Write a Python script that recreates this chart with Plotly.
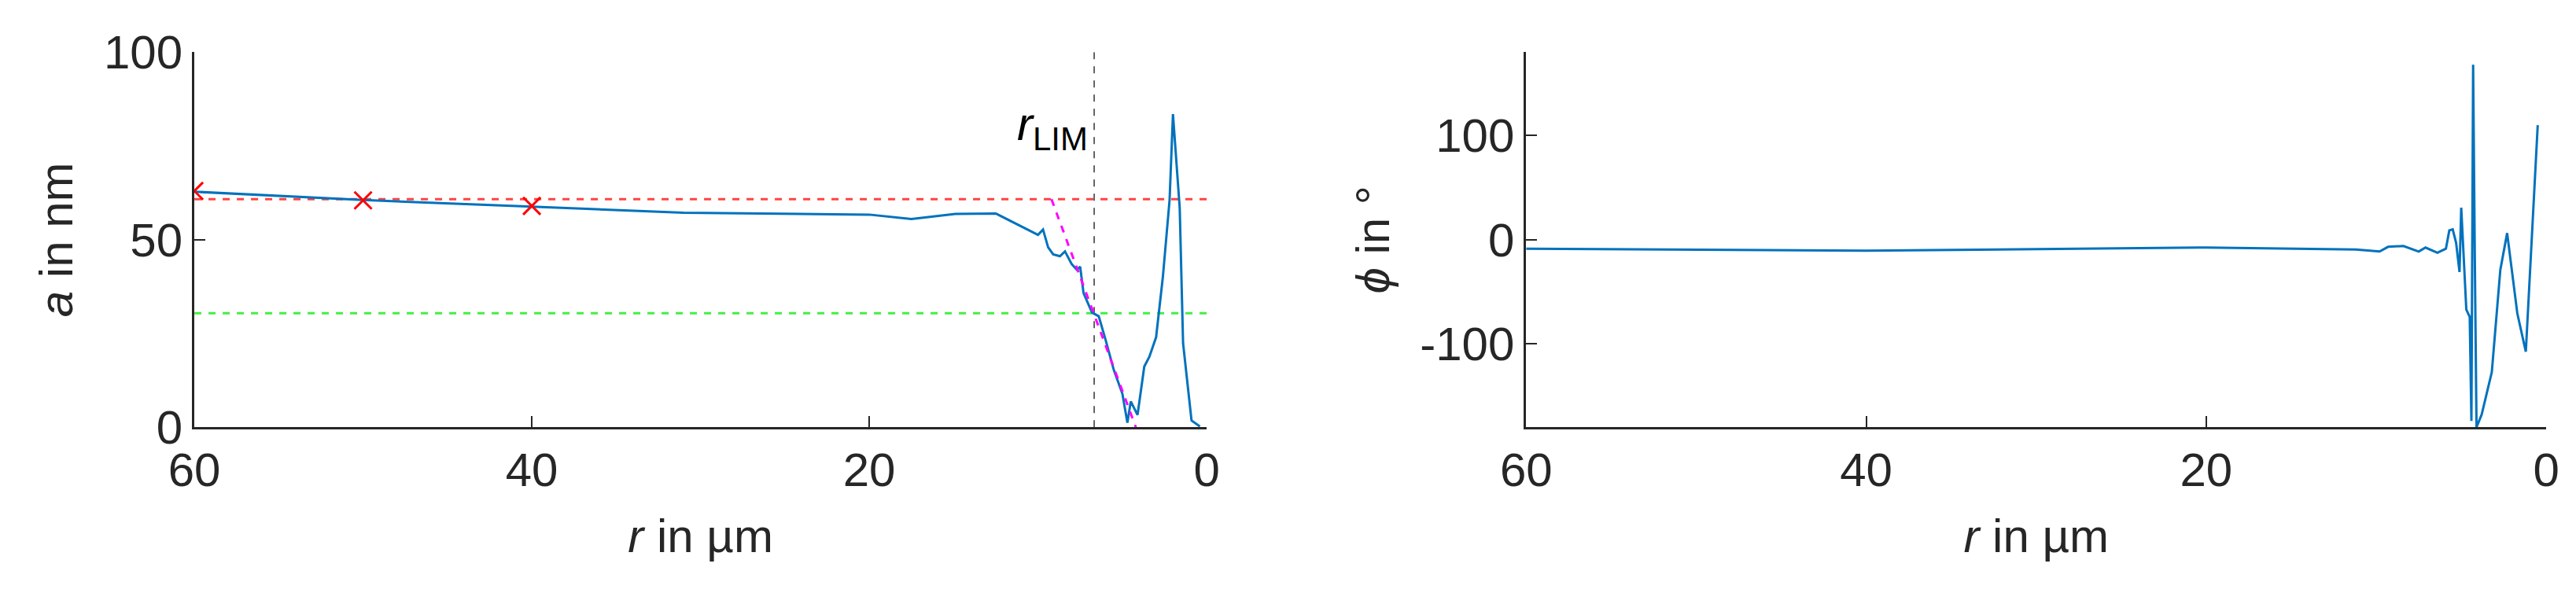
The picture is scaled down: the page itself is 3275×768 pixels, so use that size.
import plotly.graph_objects as go
from plotly.subplots import make_subplots

# amplitude profile, r in um (axis reversed)
r_amp = [60, 50, 40, 31, 20, 17.5, 14.9, 12.5, 10, 9.7, 9.4, 9.1, 8.7, 8.4, 8, 7.7, 7.5, 7.3,
         6.8, 6.4, 6, 5.5, 5, 4.7, 4.5, 4.1, 3.7, 3.4, 3, 2.6, 2.2, 2, 1.6, 1.4, 0.9, 0.4]
a_amp = [62.8, 60.6, 58.8, 57.2, 56.7, 55.5, 56.9, 57, 51.3, 52.7, 48, 46.1, 45.6, 46.9, 43.5,
         42, 42.8, 35.8, 30.6, 29.6, 23.4, 15.2, 9, 1.2, 6.9, 3.3, 16.2, 18.8, 24, 40, 60.6,
         83.5, 58.5, 22.4, 1.8, 0.2]

# phase profile
r_phi = [60, 40, 20, 11.2, 9.8, 9.3, 8.4, 7.5, 7.1, 6.4, 5.9, 5.7, 5.5, 5.3, 5.1, 5, 4.7, 4.5,
         4.4, 4.3, 4.2, 4.1, 3.8, 3.2, 2.7, 2.3, 1.7, 1.2, 0.5]
phi = [-8.6, -10.5, -7.5, -9.4, -11.3, -6.8, -6, -11.3, -7.5, -12.4, -8.6, 9, 10, -3, -31, 30.8,
       -67, -74, -174, 168, -18, -180, -168, -127, -29, 6.4, -70.7, -107.5, 110]

# markers and reference lines
r_marks = [60, 50, 40]
a_marks = [63, 60.5, 59]
a_ref = 60.8
a_half = 30.4
r_lim = 6.67
fit_r = [9.2, 4.2]
fit_a = [60.8, 0]

blue = "#0072BD"
fnt = dict(family="Liberation Sans, Arial, sans-serif", size=60, color="#262626")

fig = make_subplots(rows=1, cols=2)

fig.add_trace(go.Scatter(x=[60, 0], y=[a_ref, a_ref], mode="lines",
                         line=dict(color="#ff4444", width=3, dash="dash")), row=1, col=1)
fig.add_trace(go.Scatter(x=[60, 0], y=[a_half, a_half], mode="lines",
                         line=dict(color="#44ee44", width=3, dash="dash")), row=1, col=1)
fig.add_trace(go.Scatter(x=[r_lim, r_lim], y=[0, 100], mode="lines",
                         line=dict(color="#333333", width=1.5, dash="dash")), row=1, col=1)
fig.add_trace(go.Scatter(x=r_amp, y=a_amp, mode="lines",
                         line=dict(color=blue, width=3)), row=1, col=1)
fig.add_trace(go.Scatter(x=fit_r, y=fit_a, mode="lines",
                         line=dict(color="#ff00ff", width=3, dash="dash")), row=1, col=1)
fig.add_trace(go.Scatter(x=r_marks, y=a_marks, mode="markers",
                         marker=dict(symbol="x-thin", size=22, line=dict(color="red", width=3))),
              row=1, col=1)
fig.add_trace(go.Scatter(x=r_phi, y=phi, mode="lines",
                         line=dict(color=blue, width=3)), row=1, col=2)

fig.add_annotation(x=r_lim + 0.3, y=80, xref="x", yref="y", xanchor="right", yanchor="middle",
                   text="<i>r</i><sub>LIM</sub>", showarrow=False,
                   font=dict(family=fnt["family"], size=60, color="black"))

ax = dict(showgrid=False, zeroline=False, showline=True, linecolor="#262626", linewidth=3,
          ticks="inside", ticklen=14, tickwidth=2, tickcolor="#262626", tickfont=fnt,
          title_font=fnt, mirror=False, automargin=False)

fig.update_xaxes(ax, range=[60, 0], tickvals=[60, 40, 20, 0], domain=[0.073, 0.466],
                 title_text="<i>r</i> in µm", title_standoff=30, row=1, col=1)
fig.update_xaxes(ax, range=[60, 0], tickvals=[60, 40, 20, 0], domain=[0.590, 0.986],
                 title_text="<i>r</i> in µm", title_standoff=30, row=1, col=2)
fig.update_yaxes(ax, range=[0, 100], tickvals=[0, 50, 100], title_text="<i>a</i> in nm",
                 title_standoff=20, row=1, col=1)
fig.update_yaxes(ax, range=[-180, 180], tickvals=[-100, 0, 100],
                 ticktext=["-100", "0", "100"], title_text="<i>ϕ</i> in °",
                 title_standoff=20, row=1, col=2)
fig.update_yaxes(domain=[0.303, 0.924])

fig.update_layout(width=3275, height=768, showlegend=False, plot_bgcolor="white",
                  paper_bgcolor="white", margin=dict(l=0, r=0, t=0, b=0))

fig.write_html("out.html")
